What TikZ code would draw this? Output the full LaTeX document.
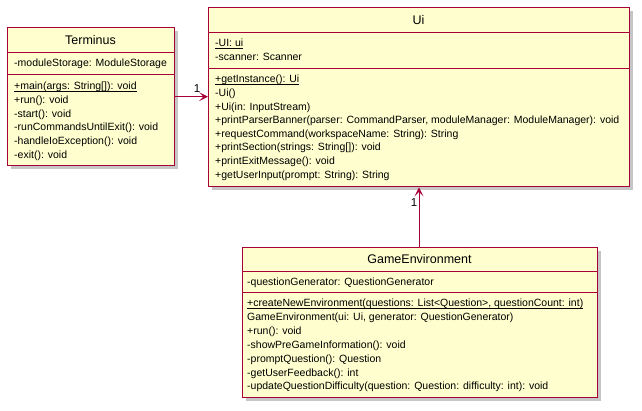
\documentclass[tikz,border=0pt]{standalone}
\usepackage{fontspec}
\setmainfont{Liberation Sans}
\usetikzlibrary{arrows.meta}
\definecolor{umlfill}{HTML}{FEFECE}
\definecolor{umlline}{HTML}{A80036}
\definecolor{shadowc}{HTML}{B8B8B8}
\newcommand\staticul[1]{\setbox0\hbox{#1}\rlap{\rule[-1.8pt]{\wd0}{0.7pt}}\box0}
\tikzset{
  classbox/.style={draw=umlline, fill=umlfill, line width=1.4pt, rectangle, inner sep=0pt},
  sepline/.style={draw=umlline, line width=1pt},
  boxshadow/.style={fill=shadowc, opacity=0.8},
  member/.style={anchor=west, inner sep=0pt, font=\fontsize{10.5pt}{13pt}\selectfont},
  ctitle/.style={inner sep=0pt, font=\fontsize{12.5pt}{14pt}\selectfont},
  mult/.style={inner sep=0pt, font=\fontsize{11.5pt}{13pt}\selectfont},
  conn/.style={draw=umlline, line width=0.9pt, -{Stealth[length=9pt,width=9pt,inset=4.5pt]}}
}
\begin{document}
\begin{tikzpicture}[x=1pt,y=-1pt]
\useasboundingbox (0,0) rectangle (642,410);
% shadows
\fill[boxshadow] (11,31) rectangle (178,169);
\fill[boxshadow] (212,11) rectangle (633,190);
\fill[boxshadow] (246,251) rectangle (601,401);
% Terminus
\node[classbox, minimum width=167pt, minimum height=138pt, anchor=north west] (term) at (7,27) {};
\draw[sepline] (7,52) -- (174,52);
\draw[sepline] (7,74) -- (174,74);
\node[ctitle] (termt) at (90.5,40) {Terminus};
\node[member] (tm0) at (14,63.5) {-moduleStorage: ModuleStorage};
\node[member] (tm1) at (14,87) {\staticul{+main(args: String[]): void}};
\node[member] (tm2) at (14,101) {+run(): void};
\node[member] (tm3) at (14,114.5) {-start(): void};
\node[member] (tm4) at (14,128) {-runCommandsUntilExit(): void};
\node[member] (tm5) at (14,142) {-handleIoException(): void};
\node[member] (tm6) at (14,155.5) {-exit(): void};
% Ui
\node[classbox, minimum width=421pt, minimum height=179pt, anchor=north west] (ui) at (208,7) {};
\draw[sepline] (208,32) -- (629,32);
\draw[sepline] (208,68) -- (629,68);
\node[ctitle] (uit) at (418.5,20) {Ui};
\node[member] (ua1) at (215,43.5) {\staticul{-UI: ui}};
\node[member] (ua2) at (215,57) {-scanner: Scanner};
\node[member] (um1) at (215,80) {\staticul{+getInstance(): Ui}};
\node[member] (um2) at (215,94) {-Ui()};
\node[member] (um3) at (215,107.5) {+Ui(in: InputStream)};
\node[member] (um4) at (215,121) {+printParserBanner(parser: CommandParser, moduleManager: ModuleManager): void};
\node[member] (um5) at (215,135) {+requestCommand(workspaceName: String): String};
\node[member] (um6) at (215,148) {+printSection(strings: String[]): void};
\node[member] (um7) at (215,162) {+printExitMessage(): void};
\node[member] (um8) at (215,175.5) {+getUserInput(prompt: String): String};
% GameEnvironment
\node[classbox, minimum width=355pt, minimum height=150pt, anchor=north west] (ge) at (242,247) {};
\draw[sepline] (242,271) -- (597,271);
\draw[sepline] (242,292) -- (597,292);
\node[ctitle] (get) at (419.5,259) {GameEnvironment};
\node[member] (ga1) at (247,283) {-questionGenerator: QuestionGenerator};
\node[member] (gm1) at (247,304) {\staticul{+createNewEnvironment(questions: List<Question>, questionCount: int)}};
\node[member] (gm2) at (247,318) {GameEnvironment(ui: Ui, generator: QuestionGenerator)};
\node[member] (gm3) at (247,332) {+run(): void};
\node[member] (gm4) at (247,346) {-showPreGameInformation(): void};
\node[member] (gm5) at (247,360) {-promptQuestion(): Question};
\node[member] (gm6) at (247,374) {-getUserFeedback(): int};
\node[member] (gm7) at (247,387) {-updateQuestionDifficulty(question: Question: difficulty: int): void};
% connectors
\draw[conn] (term.east) -- (term.east -| ui.west);
\node[mult] (m1) at (197,89) {1};
\draw[conn] (ge.north -| 419,0) -- (ui.south -| 419,0);
\node[mult] (m2) at (414,203) {1};
\end{tikzpicture}
\end{document}
